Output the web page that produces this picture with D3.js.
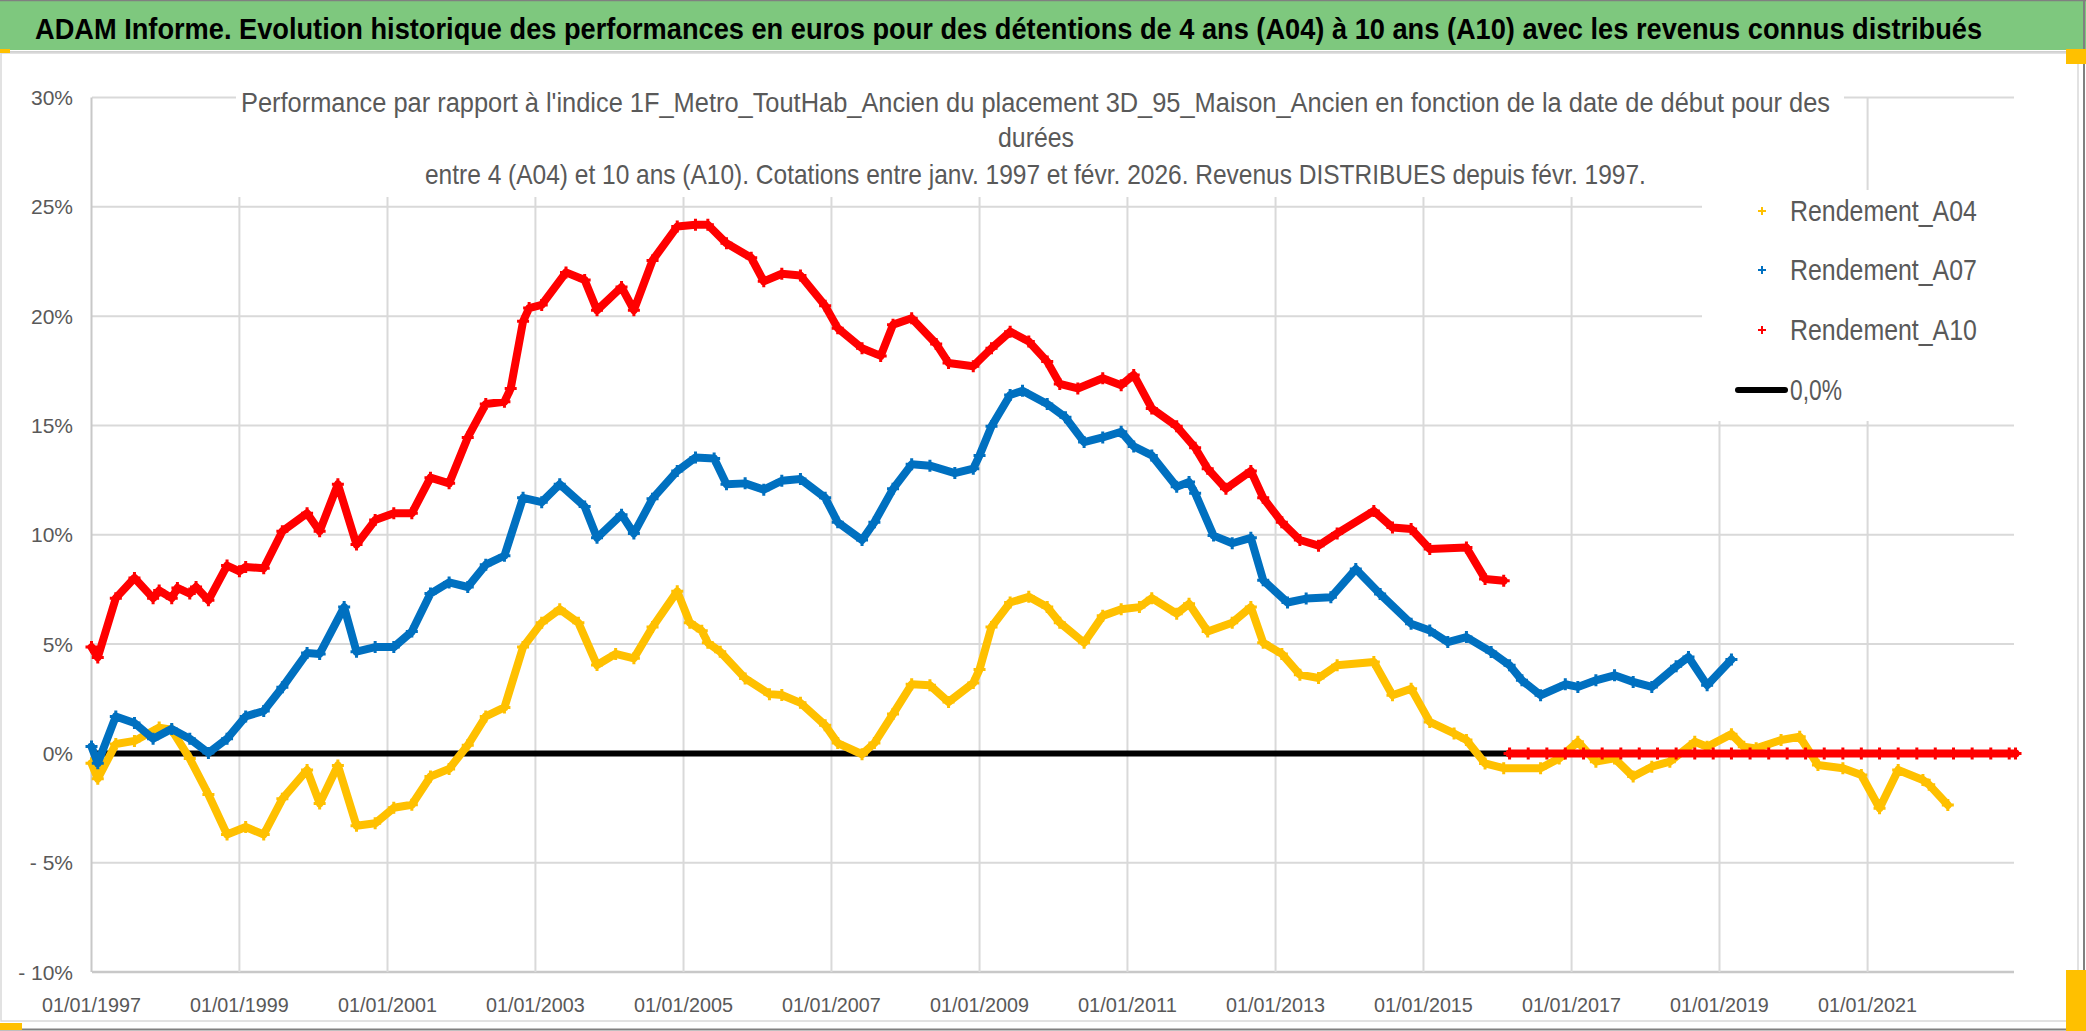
<!DOCTYPE html>
<html lang="fr">
<head>
<meta charset="UTF-8">
<title>ADAM Informe</title>
<style>
  body { margin: 0; background: #fff; }
  svg { display: block; }
  text { font-family: "Liberation Sans", Arial, sans-serif; }
</style>
<script src="https://d3js.org/d3.v7.min.js"></script>
</head>
<body>
<svg width="2086" height="1031"></svg>
<script>
const titre = "ADAM Informe. Evolution historique des performances en euros pour des détentions de 4 ans (A04) à 10 ans (A10) avec les revenus connus distribués";
const sousTitre = [
  "Performance par rapport à l'indice 1F_Metro_ToutHab_Ancien  du placement 3D_95_Maison_Ancien en fonction de la date de début pour des",
  "durées",
  "entre 4 (A04) et 10 ans (A10). Cotations entre janv. 1997 et févr. 2026. Revenus DISTRIBUES depuis févr. 1997."
];
const xTickLabels = ["01/01/1997","01/01/1999","01/01/2001","01/01/2003","01/01/2005","01/01/2007",
  "01/01/2009","01/01/2011","01/01/2013","01/01/2015","01/01/2017","01/01/2019","01/01/2021"];
const yTicks = [-10, -5, 0, 5, 10, 15, 20, 25, 30];
const legendLabels = ["Rendement_A04", "Rendement_A07", "Rendement_A10", "0,0%"];

// [mois, performance en %]
const rendementA04 = [
  ["1997-01",-0.45],["1997-02",-1.16],["1997-05",0.43],["1997-08",0.57],["1997-12",1.18],
  ["1998-02",1.08],["1998-05",-0.24],["1998-08",-1.88],["1998-11",-3.71],["1999-02",-3.37],
  ["1999-05",-3.71],["1999-08",-2.08],["1999-12",-0.76],["2000-02",-2.29],["2000-05",-0.55],
  ["2000-08",-3.31],["2000-11",-3.2],["2001-02",-2.49],["2001-05",-2.35],["2001-08",-1.06],
  ["2001-11",-0.71],["2002-02",0.37],["2002-05",1.69],["2002-08",2.1],["2002-11",4.86],
  ["2003-02",5.98],["2003-05",6.59],["2003-08",5.98],["2003-11",4.04],["2004-02",4.55],
  ["2004-05",4.35],["2004-08",5.78],["2004-12",7.41],["2005-02",5.98],["2005-04",5.61],
  ["2005-05",5.06],["2005-07",4.65],["2005-11",3.43],["2006-03",2.71],["2006-05",2.67],
  ["2006-08",2.31],["2006-12",1.29],["2007-02",0.47],["2007-06",-0.04],["2007-08",0.47],
  ["2007-11",1.8],["2008-02",3.16],["2008-05",3.12],["2008-08",2.35],["2008-12",3.22],
  ["2009-01",3.84],["2009-03",5.78],["2009-06",6.9],["2009-09",7.16],["2009-12",6.69],
  ["2010-02",5.98],["2010-06",5.06],["2010-09",6.29],["2010-12",6.59],["2011-03",6.69],
  ["2011-05",7.1],["2011-09",6.39],["2011-11",6.84],["2012-02",5.57],["2012-06",5.98],
  ["2012-09",6.69],["2012-11",5.06],["2013-02",4.55],["2013-05",3.6],["2013-08",3.45],
  ["2013-11",4.03],["2014-05",4.18],["2014-08",2.66],["2014-11",2.96],["2015-02",1.44],
  ["2015-06",0.91],["2015-08",0.61],["2015-11",-0.46],["2016-02",-0.68],["2016-08",-0.68],
  ["2016-11",-0.23],["2017-02",0.53],["2017-05",-0.38],["2017-08",-0.23],["2017-11",-1.06],
  ["2018-02",-0.61],["2018-05",-0.38],["2018-09",0.53],["2018-11",0.3],["2019-03",0.88],
  ["2019-05",0.3],["2019-07",0.23],["2019-11",0.61],["2020-02",0.76],["2020-05",-0.53],
  ["2020-09",-0.68],["2020-12",-0.99],["2021-03",-2.51],["2021-06",-0.76],["2021-10",-1.22],
  ["2021-11",-1.44],["2022-02",-2.36]
];
const rendementA07 = [
  ["1997-01",0.31],["1997-02",-0.45],["1997-05",1.69],["1997-08",1.39],["1997-11",0.67],
  ["1998-02",1.12],["1998-05",0.67],["1998-08",0.02],["1998-11",0.67],["1999-02",1.69],
  ["1999-05",1.94],["1999-08",3.02],["1999-12",4.59],["2000-02",4.55],["2000-06",6.69],
  ["2000-08",4.65],["2000-11",4.86],["2001-02",4.86],["2001-05",5.57],["2001-08",7.31],
  ["2001-11",7.82],["2002-02",7.61],["2002-05",8.63],["2002-08",9.04],["2002-11",11.69],
  ["2003-02",11.49],["2003-05",12.31],["2003-09",11.29],["2003-11",9.86],["2004-03",10.92],
  ["2004-05",10.06],["2004-08",11.65],["2004-12",12.92],["2005-03",13.53],["2005-06",13.49],
  ["2005-08",12.31],["2005-11",12.35],["2006-02",12.06],["2006-05",12.47],["2006-08",12.55],
  ["2006-12",11.69],["2007-02",10.57],["2007-06",9.76],["2007-08",10.57],["2007-11",12.1],
  ["2008-02",13.22],["2008-05",13.16],["2008-09",12.82],["2008-12",13.02],["2009-01",13.63],
  ["2009-03",14.96],["2009-06",16.39],["2009-08",16.59],["2009-12",15.98],["2010-03",15.37],
  ["2010-06",14.24],["2010-09",14.45],["2010-12",14.71],["2011-02",14.04],["2011-05",13.63],
  ["2011-09",12.2],["2011-11",12.41],["2011-12",11.9],["2012-03",9.96],["2012-06",9.61],
  ["2012-09",9.86],["2012-11",7.92],["2013-03",6.9],["2013-06",7.08],["2013-10",7.14],
  ["2014-02",8.43],["2014-06",7.29],["2014-11",5.93],["2015-02",5.62],["2015-05",5.09],
  ["2015-08",5.32],["2015-12",4.64],["2016-03",4.03],["2016-05",3.34],["2016-08",2.66],
  ["2016-12",3.16],["2017-02",3.04],["2017-05",3.34],["2017-08",3.57],["2017-11",3.27],
  ["2018-02",3.04],["2018-06",3.98],["2018-08",4.41],["2018-11",3.12],["2019-03",4.29]
];
const rendementA10 = [
  ["1997-01",4.86],["1997-02",4.39],["1997-05",7.1],["1997-08",8.02],["1997-11",7.1],
  ["1997-12",7.45],["1998-02",7.1],["1998-03",7.57],["1998-05",7.31],["1998-06",7.61],
  ["1998-08",7.0],["1998-11",8.59],["1999-01",8.33],["1999-02",8.53],["1999-05",8.47],
  ["1999-08",10.16],["1999-12",10.98],["2000-02",10.16],["2000-05",12.31],["2000-08",9.55],
  ["2000-11",10.67],["2001-02",10.98],["2001-05",10.98],["2001-08",12.61],["2001-11",12.35],
  ["2002-02",14.45],["2002-05",15.98],["2002-08",16.08],["2002-09",16.69],["2002-11",19.76],
  ["2002-12",20.37],["2003-02",20.51],["2003-06",22.0],["2003-09",21.65],["2003-11",20.27],
  ["2004-03",21.33],["2004-05",20.27],["2004-08",22.55],["2004-12",24.1],["2005-03",24.18],
  ["2005-05",24.18],["2005-08",23.33],["2005-12",22.67],["2006-02",21.59],["2006-05",21.94],
  ["2006-08",21.86],["2006-12",20.47],["2007-02",19.45],["2007-06",18.53],["2007-09",18.18],
  ["2007-11",19.61],["2008-02",19.9],["2008-06",18.73],["2008-08",17.86],["2008-12",17.71],
  ["2009-03",18.53],["2009-06",19.29],["2009-09",18.84],["2009-12",17.92],["2010-02",16.9],
  ["2010-05",16.69],["2010-09",17.16],["2010-12",16.84],["2011-02",17.31],["2011-05",15.78],
  ["2011-09",14.96],["2011-12",13.98],["2012-02",13.02],["2012-05",12.1],["2012-09",12.92],
  ["2012-11",11.69],["2013-02",10.57],["2013-05",9.76],["2013-08",9.5],["2013-11",10.06],
  ["2014-05",11.09],["2014-08",10.33],["2014-11",10.26],["2015-02",9.35],["2015-08",9.42],
  ["2015-11",7.98],["2016-02",7.9]
];
// A10 sans cotation au-delà de févr. 2016 : valeurs à zéro
const rendementA10Nuls = [
  ["2016-03",0],["2016-06",0],["2016-09",0],["2016-12",0],["2017-03",0],["2017-06",0],
  ["2017-09",0],["2017-12",0],["2018-03",0],["2018-06",0],["2018-09",0],["2018-12",0],
  ["2019-03",0],["2019-06",0],["2019-09",0],["2019-12",0],["2020-03",0],["2020-06",0],
  ["2020-09",0],["2020-12",0],["2021-03",0],["2021-06",0],["2021-09",0],["2021-12",0],
  ["2022-03",0],["2022-06",0],["2022-09",0],["2022-12",0],["2023-01",0]
];
const ligneZero = [["1997-01",0],["2023-01",0]];

const svg = d3.select("svg"),
    W = +svg.attr("width"),
    H = +svg.attr("height");

const parseMois = d3.timeParse("%Y-%m");
const parseTick = d3.timeParse("%d/%m/%Y");
const prep = arr => arr.map(d => ({ date: parseMois(d[0]), v: d[1] }));

const x = d3.scaleTime()
    .domain([new Date(1997, 0, 1), new Date(2023, 0, 1)])
    .range([91.5, 2015.5]);
const y = d3.scaleLinear().domain([-10, 30]).range([972, 97.5]);

const gris = "#595959";

// texte condensé horizontalement pour tenir une largeur donnée (police étroite de type Calibri)
function condensed(g, str, px, py, size, width, anchor, weight) {
  const t = g.append("text").attr("font-size", size)
      .attr("font-weight", weight || "normal").text(str);
  const natural = t.node().getComputedTextLength();
  const k = Math.min(1, width / natural);
  const x0 = anchor === "middle" ? px - width / 2 : px;
  t.attr("transform", `translate(${x0},${py}) scale(${k},1)`);
  return t;
}

// fond
svg.append("rect").attr("width", W).attr("height", H).attr("fill", "#fff");

// bandeau titre
svg.append("rect").attr("x", 0).attr("y", 0).attr("width", W).attr("height", 50).attr("fill", "#7ec87e");
svg.append("line").attr("x1", 0).attr("x2", W).attr("y1", 52).attr("y2", 52)
    .attr("stroke", "#d0d0d0").attr("stroke-width", 2);
condensed(svg, titre, 35, 39, 29, 1948, "start", "bold").attr("fill", "#000");

// cadre
svg.append("rect").attr("x", 1).attr("y", 53).attr("width", 2077).attr("height", 968)
    .attr("fill", "none").attr("stroke", "#d9d9d9").attr("stroke-width", 1.5);
svg.append("line").attr("x1", 0).attr("x2", W).attr("y1", 1029.5).attr("y2", 1029.5)
    .attr("stroke", "#808080").attr("stroke-width", 2);
svg.append("line").attr("x1", 2084).attr("x2", 2084).attr("y1", 0).attr("y2", H)
    .attr("stroke", "#808080").attr("stroke-width", 2);
svg.append("line").attr("x1", 0).attr("x2", W).attr("y1", 0.5).attr("y2", 0.5)
    .attr("stroke", "#808080").attr("stroke-width", 1.5);

// poignées orange
const poignees = [[0, 49, 10, 4], [2066, 49, 20, 15], [2066, 970, 20, 61], [0, 1023, 22, 7]];
svg.append("g").selectAll("rect").data(poignees).enter().append("rect")
    .attr("x", d => d[0]).attr("y", d => d[1]).attr("width", d => d[2]).attr("height", d => d[3])
    .attr("fill", "#ffc000");

// grille
const xTicks = xTickLabels.map(parseTick);
const grid = svg.append("g");
grid.selectAll("line.h").data(yTicks).enter().append("line")
    .attr("x1", 92).attr("x2", 2014)
    .attr("y1", d => y(d)).attr("y2", d => y(d))
    .attr("stroke", d => d === -10 ? "#c8c8c8" : "#d9d9d9")
    .attr("stroke-width", d => d === -10 ? 2.5 : 2);
grid.selectAll("line.v").data(xTicks).enter().append("line")
    .attr("x1", d => x(d)).attr("x2", d => x(d))
    .attr("y1", y(30)).attr("y2", y(-10))
    .attr("stroke", (d, i) => i === 0 ? "#c8c8c8" : "#d9d9d9")
    .attr("stroke-width", 2);

// étiquettes des axes
svg.append("g").selectAll("text").data(yTicks).enter().append("text")
    .attr("x", 73).attr("y", d => y(d)).attr("dy", "0.36em")
    .attr("text-anchor", "end").attr("font-size", 21).attr("fill", gris)
    .text(d => d < 0 ? "- " + Math.abs(d) + "%" : d + "%");
const xLab = svg.append("g").attr("fill", gris);
xTicks.forEach((d, i) => condensed(xLab, xTickLabels[i], x(d), 1012, 21, 99, "middle"));

// sous-titre (boîte blanche sur la grille)
svg.append("rect").attr("x", 236).attr("y", 90).attr("width", 1608).attr("height", 107).attr("fill", "#fff");
const stW = [1590, 76, 1222];
const stY = [112, 147, 184];
const st = svg.append("g").attr("fill", gris);
sousTitre.forEach((s, i) => condensed(st, s, 1036, stY[i], 27, stW[i], "middle"));

// séries
const line = d3.line().x(d => x(d.date)).y(d => y(d.v));
const plus = "M-6,0H6M0,-6V6";

svg.append("path").datum(prep(ligneZero))
    .attr("d", line).attr("fill", "none").attr("stroke", "#000").attr("stroke-width", 6);

const series = [
  { data: [prep(rendementA04)], color: "#ffc000" },
  { data: [prep(rendementA07)], color: "#0070c0" },
  { data: [prep(rendementA10), prep(rendementA10Nuls)], color: "#ff0000" }
];
series.forEach(s => {
  const g = svg.append("g");
  s.data.forEach(seg => {
    g.append("path").datum(seg)
      .attr("d", line).attr("fill", "none").attr("stroke", s.color)
      .attr("stroke-width", 8).attr("stroke-linejoin", "round").attr("stroke-linecap", "round");
    g.append("g").selectAll("path").data(seg).enter().append("path")
      .attr("transform", d => `translate(${x(d.date)},${y(d.v)})`)
      .attr("d", plus).attr("stroke", s.color).attr("stroke-width", 3);
  });
});

// légende
svg.append("rect").attr("x", 1702).attr("y", 190).attr("width", 312).attr("height", 231).attr("fill", "#fff");
const leg = svg.append("g").attr("fill", gris);
const legY = [221, 280, 340, 400];
const legColors = ["#ffc000", "#0070c0", "#ff0000", "#000"];
legendLabels.forEach((lab, i) => {
  if (i < 3) {
    leg.append("path").attr("transform", `translate(1762,${legY[i] - 10})`)
      .attr("d", "M-4,0H4M0,-4V4").attr("stroke", legColors[i]).attr("stroke-width", 2);
  } else {
    leg.append("line").attr("x1", 1738).attr("x2", 1785)
      .attr("y1", legY[i] - 10).attr("y2", legY[i] - 10)
      .attr("stroke", "#000").attr("stroke-width", 6).attr("stroke-linecap", "round");
  }
  condensed(leg, lab, 1790, legY[i], 30, i < 3 ? 187 : 52, "start");
});
</script>
</body>
</html>
